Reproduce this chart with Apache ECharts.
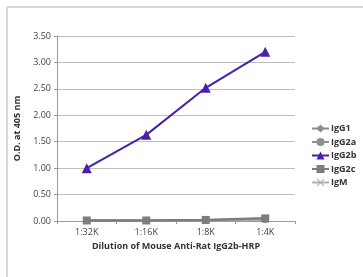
<!DOCTYPE html>
<html><head><meta charset="utf-8">
<script src="https://cdn.jsdelivr.net/npm/echarts@6/dist/echarts.min.js"></script>
<style>html,body{margin:0;padding:0;background:#fff}#c{width:363px;height:277px}</style>
</head><body><div id="c"></div>
<script>
const categories = ['1:32K', '1:16K', '1:8K', '1:4K'];
const yTicks = [0, 0.5, 1, 1.5, 2, 2.5, 3, 3.5];
const igg1 = [0.01, 0.01, 0.01, 0.02];
const igg2a = [0.01, 0.01, 0.01, 0.03];
const igg2b = [1.00, 1.63, 2.52, 3.20];
const igg2c = [0.01, 0.01, 0.02, 0.05];
const igm = [0.01, 0.01, 0.01, 0.02];

const chart = echarts.init(document.getElementById('c'), null, {renderer: 'canvas'});
const font = '"Open Sans", "Liberation Sans", sans-serif';
const crossPath = 'path://M1,0L5,4L9,0L10,1L6,5L10,9L9,10L5,6L1,10L0,9L4,5L0,1Z';
function s(name, data, color, symbol, size, w, z) {
  return {name, type: 'line', data, symbol, symbolSize: size, z: z || 2,
    lineStyle: {color, width: w}, itemStyle: {color}, animation: false};
}
chart.setOption({
  animation: false,
  textStyle: {fontFamily: font},
  graphic: [
    {type: 'line', shape: {x1: 7, y1: 7, x2: 363, y2: 7}, style: {stroke: '#d8d8d8', lineWidth: 2}},
    {type: 'line', shape: {x1: 7, y1: 7, x2: 7, y2: 277}, style: {stroke: '#d8d8d8', lineWidth: 2}}
  ],
  grid: {left: 57, right: 68, top: 36, bottom: 56},
  legend: {
    orient: 'vertical', left: 306, top: 119, itemGap: 4.5, itemWidth: 17, itemHeight: 10,
    textStyle: {fontSize: 9, fontWeight: 'bold', color: '#333', padding: [0, 0, 0, -3]},
    data: ['IgG1', 'IgG2a', 'IgG2b', 'IgG2c', 'IgM']
  },
  xAxis: {
    type: 'category', data: categories, boundaryGap: true,
    axisLine: {lineStyle: {color: '#999', width: 1}},
    axisTick: {show: true, length: 3, lineStyle: {color: '#999'}},
    axisLabel: {fontSize: 9, color: '#444', margin: 7},
    name: 'Dilution of Mouse Anti-Rat IgG2b-HRP', nameLocation: 'middle', nameGap: 17,
    nameTextStyle: {fontSize: 9, fontWeight: 'bold', color: '#333'}
  },
  yAxis: {
    type: 'value', min: 0, max: 3.5, interval: 0.5,
    axisLine: {show: true, lineStyle: {color: '#999'}},
    axisTick: {show: true, length: 3, lineStyle: {color: '#999'}},
    splitLine: {lineStyle: {color: '#bdbdbd', width: 1}},
    axisLabel: {fontSize: 9, color: '#444', margin: 6, formatter: v => v.toFixed(2)},
    name: 'O.D. at 405 nm', nameLocation: 'middle', nameGap: 31,
    nameTextStyle: {fontSize: 9, fontWeight: 'bold', color: '#333'}
  },
  series: [
    s('IgG1', igg1, '#8a8a8a', 'diamond', 7, 2),
    s('IgG2a', igg2a, '#8f8f8f', 'circle', 7, 2),
    s('IgG2b', igg2b, '#4a1fa6', 'triangle', 10, 2, 5),
    s('IgG2c', igg2c, '#7d7d7d', 'rect', 8, 2.5, 3),
    s('IgM', igm, '#b0b0b0', crossPath, 6, 2)
  ]
});
</script></body></html>
